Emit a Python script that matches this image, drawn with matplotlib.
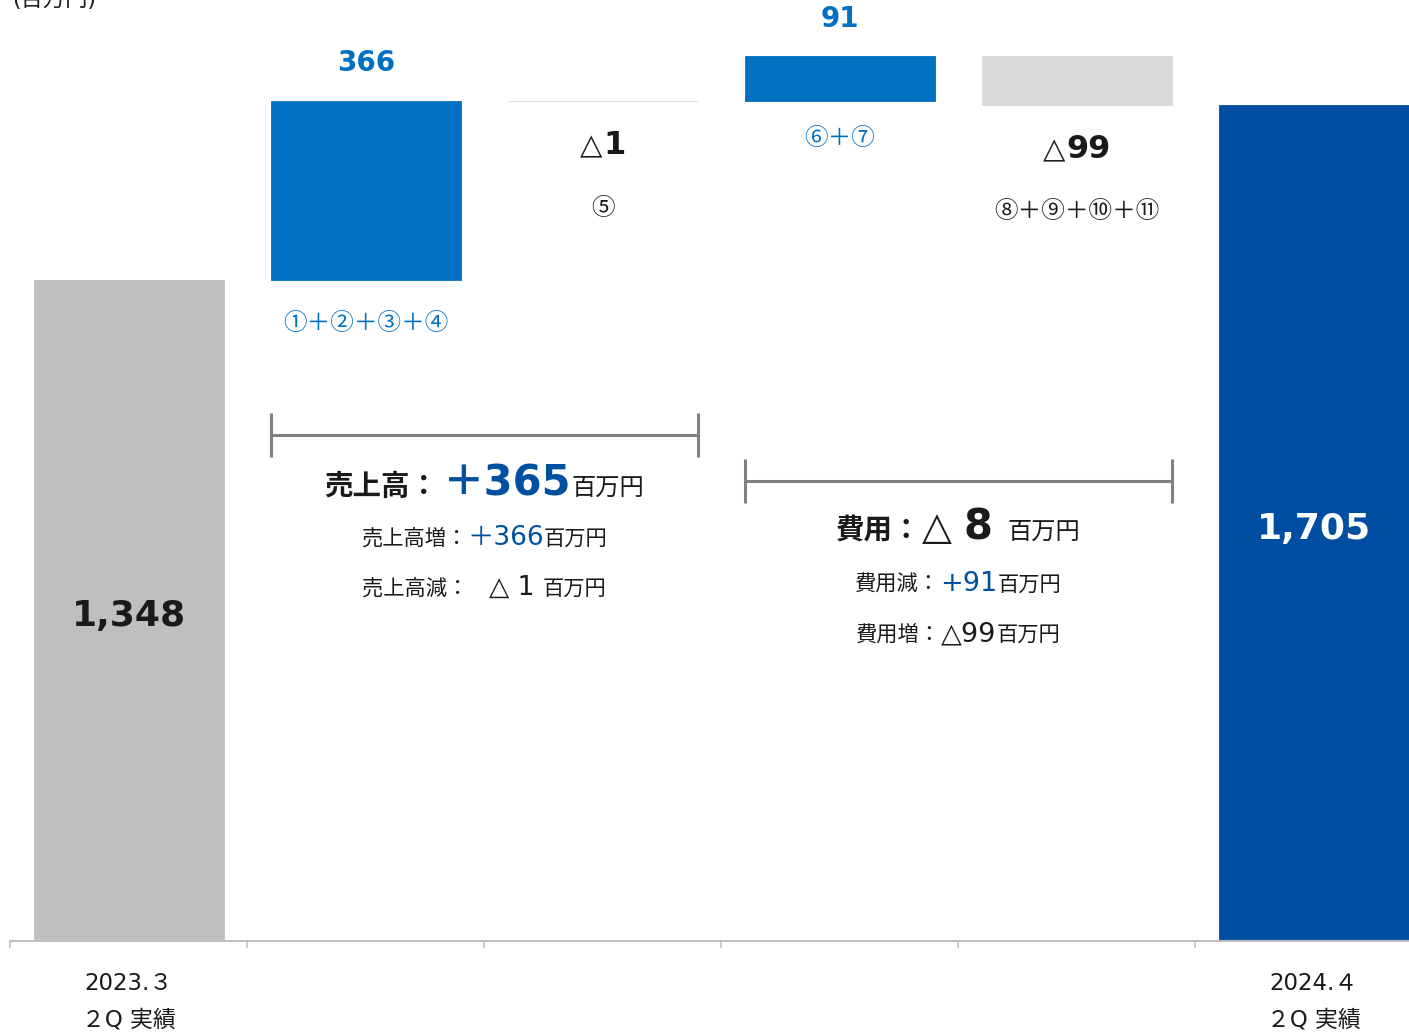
import numpy as np
import matplotlib
matplotlib.use("Agg")
import matplotlib.pyplot as plt
from matplotlib.offsetbox import TextArea, HPacker, AnnotationBbox

plt.rcParams['font.family'] = ['DejaVu Sans', 'Noto Sans CJK JP']

# data
tick_labels = ['2023.３\n２Q 実績', '', '', '', '', '2024.４\n２Q 実績']
start_value = 1348
deltas = [366, -1, 91, -99]
end_value = 1705
delta_top_labels = ['366', '', '91', '']
delta_notes = ['①＋②＋③＋④', '⑤', '⑥＋⑦', '⑧＋⑨＋⑩＋⑪']

GREY = '#bfbfbf'
LIGHT = '#d9d9d9'
BLUE = '#0070c0'
DARK = '#004ea2'
NAVY = '#0050a0'
K = '#1a1a1a'
CJK = ['Noto Sans CJK JP', 'DejaVu Sans']

# waterfall geometry from the data
steps = np.cumsum([start_value] + deltas)
bottoms = [0] + [min(steps[i], steps[i + 1]) for i in range(len(deltas))] + [0]
heights = [start_value] + [abs(d) for d in deltas] + [end_value]
colors = [GREY] + [BLUE if d > 0 else LIGHT for d in deltas] + [DARK]

fig = plt.figure(figsize=(14.09, 10.34), dpi=100)
ax = fig.add_axes([10.3 / 1409, 93 / 1034, 1422 / 1409, 1900 * 0.4903 / 1034])
x = np.arange(len(heights))
ax.bar(x, heights, bottom=bottoms, width=0.8, color=colors,
       edgecolor=colors, linewidth=0.6)
ax.set_xlim(-0.5, 5.5)
ax.set_ylim(0, 1900)

for s in ['top', 'right', 'left']:
    ax.spines[s].set_visible(False)
ax.spines['bottom'].set_color('#c0c0c0')
ax.spines['bottom'].set_linewidth(1.5)
ax.set_yticks([])
ax.set_xticks(x)
ax.set_xticklabels(tick_labels, fontsize=16.5, color=K, linespacing=1.8)
ax.tick_params(axis='x', which='major', length=0, pad=22)
ax.set_xticks(np.arange(-0.5, 6, 1), minor=True)
ax.tick_params(axis='x', which='minor', length=5, width=1.2, color='#c0c0c0')

# end bar values
ax.annotate(f'{start_value:,}', (0, start_value / 2), xytext=(0, -4), textcoords='offset points',
            ha='center', va='center', fontsize=26, fontweight='bold', color=K)
ax.annotate(f'{end_value:,}', (5, end_value / 2), xytext=(0, -4), textcoords='offset points',
            ha='center', va='center', fontsize=26, fontweight='bold', color='white')

# delta labels
for i, d in enumerate(deltas):
    xi = i + 1
    top = bottoms[xi] + heights[xi]
    bot = bottoms[xi]
    if d > 0:
        ax.annotate(delta_top_labels[i], (xi, top), xytext=(0, 27), textcoords='offset points',
                    ha='center', va='center', fontsize=20, fontweight='bold', color=BLUE)
        off = -31 if i == 0 else -27
        ax.annotate(delta_notes[i], (xi, bot), xytext=(0, off), textcoords='offset points',
                    ha='center', va='center', fontsize=17, color=BLUE, family=CJK)
    else:
        tri = TextArea('△', textprops=dict(fontsize=21, color=K))
        num = TextArea(str(abs(d)), textprops=dict(fontsize=23, fontweight='bold', color=K))
        pk = HPacker(children=[tri, num], align='baseline', pad=0, sep=1)
        ax.add_artist(AnnotationBbox(pk, (xi, bot), xybox=(0, -32), boxcoords='offset points',
                                     frameon=False, box_alignment=(0.5, 0.5)))
        ax.annotate(delta_notes[i], (xi, bot), xytext=(0, -77), textcoords='offset points',
                    ha='center', va='center', fontsize=17, color=K, family=CJK)


def rich_line(parts, xy, sep=0):
    kids = [TextArea(t, textprops=p) for t, p in parts]
    pk = HPacker(children=kids, align='baseline', pad=0, sep=sep)
    ax.add_artist(AnnotationBbox(pk, xy, xycoords='data', frameon=False,
                                 box_alignment=(0.5, 0.5)))


def bracket(x0, x1, y, h):
    ax.plot([x0, x1], [y, y], color='#808080', lw=2.2, solid_capstyle='butt')
    for xe in (x0, x1):
        ax.plot([xe, xe], [y - h, y + h], color='#808080', lw=2.2, solid_capstyle='butt')


bracket(0.6, 2.4, 1032, 45)
rich_line([('売上高：', dict(fontsize=20.5, fontweight='bold', color=K)),
           (' ', dict(fontsize=12, color=K)),
           ('＋365', dict(fontsize=30, fontweight='bold', color=NAVY)),
           ('百万円', dict(fontsize=17.5, color=K))], (1.5, 934))
rich_line([('売上高増：', dict(fontsize=15.3, color=K)),
           ('＋366', dict(fontsize=19, color=NAVY)),
           ('百万円', dict(fontsize=15.3, color=K))], (1.5, 822))
rich_line([('売上高減：　', dict(fontsize=15.3, color=K)),
           ('△ 1 ', dict(fontsize=19, color=K)),
           ('百万円', dict(fontsize=15.3, color=K))], (1.5, 720))

bracket(2.6, 4.4, 938, 45)
rich_line([('費用：', dict(fontsize=20.5, fontweight='bold', color=K)),
           ('△ ', dict(fontsize=28, color=K)),
           ('8 ', dict(fontsize=30, fontweight='bold', color=K)),
           ('百万円', dict(fontsize=17.5, color=K))], (3.5, 844))
rich_line([('費用減：', dict(fontsize=15.3, color=K)),
           ('+91', dict(fontsize=19.5, color=NAVY)),
           ('百万円', dict(fontsize=15.3, color=K))], (3.5, 728))
rich_line([('費用増：', dict(fontsize=15.3, color=K)),
           ('△99', dict(fontsize=19.5, color=K)),
           ('百万円', dict(fontsize=15.3, color=K))], (3.5, 626))

fig.text(12 / 1409, 1.0, '(百万円)', ha='left', va='center', fontsize=16, color=K)

fig.savefig('out.png', dpi=100)
